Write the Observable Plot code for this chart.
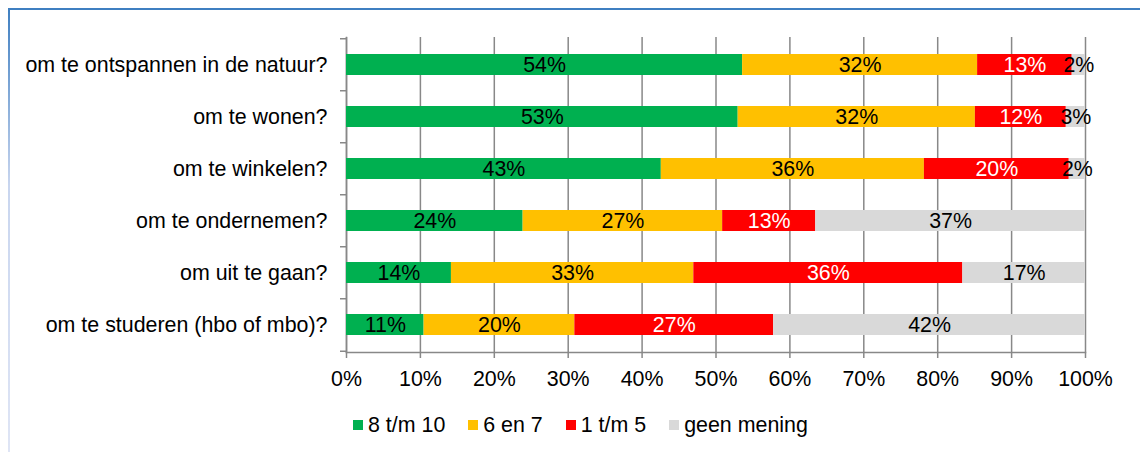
<!DOCTYPE html>
<html>
<head>
<meta charset="utf-8">
<script src="https://cdn.jsdelivr.net/npm/d3@7"></script>
<script src="https://cdn.jsdelivr.net/npm/@observablehq/plot@0.6"></script>
<style>
  html, body { margin: 0; padding: 0; background: #fff; }
  #wrap { position: relative; width: 1140px; height: 452px; overflow: hidden; font-family: "Liberation Sans", Arial, sans-serif; }
  #frameTop { position: absolute; left: 8px; top: 8px; right: 0; height: 2px; background: #3f7fc1; }
  #frameLeft { position: absolute; left: 8px; top: 8px; width: 2px; bottom: 0; background: linear-gradient(#3f7fc1, #c9d6ef 40%, #dfe5f5); }
  #chart { position: absolute; left: 0; top: 0; }
  #legend { position: absolute; left: 353px; top: 413px; height: 24px; display: flex; align-items: center; font-size: 21.4px; color: #000; }
  .item { display: flex; align-items: center; margin-right: 23px; }
  .sw { width: 10px; height: 10px; margin-right: 5px; }
</style>
</head>
<body>
<div id="wrap">
  <div id="frameTop"></div>
  <div id="frameLeft"></div>
  <div id="chart"></div>
  <div id="legend"></div>
</div>
<script>
const questions = [
  "om te ontspannen in de natuur?",
  "om te wonen?",
  "om te winkelen?",
  "om te ondernemen?",
  "om uit te gaan?",
  "om te studeren (hbo of mbo)?"
];
const categories = ["8 t/m 10", "6 en 7", "1 t/m 5", "geen mening"];
const colors = ["#00b050", "#ffc000", "#ff0000", "#d9d9d9"];
// values per category, one per question (percent)
const v8tm10 = [53.6, 53.0, 42.6, 23.9, 14.2, 10.5];
const v6en7 = [31.8, 32.1, 35.6, 27.0, 32.8, 20.4];
const v1tm5 = [12.8, 12.3, 19.6, 12.6, 36.4, 26.9];
const vGeen = [1.8, 2.6, 2.2, 36.5, 16.6, 42.2];
const xTicks = [0, 10, 20, 30, 40, 50, 60, 70, 80, 90, 100];

const series = [v8tm10, v6en7, v1tm5, vGeen];
const data = [];
questions.forEach((q, i) => {
  categories.forEach((c, j) => data.push({question: q, cat: c, value: series[j][i]}));
});
const pct = d => Math.round(d.value) + "%";
const step = 315 / 6;
const fs = 21.4;

const plot = Plot.plot({
  width: 1140,
  height: 400,
  marginLeft: 346,
  marginRight: 55,
  marginTop: 37,
  marginBottom: 48,
  style: {fontFamily: "'Liberation Sans', Arial, sans-serif", fontSize: fs + "px", background: "transparent", color: "#000"},
  x: {domain: [0, 100], axis: null},
  y: {domain: questions, paddingInner: 0.6, paddingOuter: 0.3, axis: null},
  color: {domain: categories, range: colors},
  marks: [
    Plot.ruleX(xTicks, {stroke: "#888", strokeWidth: 1.5}),
    Plot.axisX({ticks: xTicks, tickFormat: d => d + "%", tickSize: 6, tickPadding: 12, stroke: "#888", strokeWidth: 1.5, fontSize: fs, fill: "#000", label: null}),
    Plot.axisY({tickSize: 0, tickPadding: 19, fontSize: fs, fill: "#000", label: null}),
    Plot.axisY({tickSize: 6, text: null, dy: -step / 2, stroke: "#888", strokeWidth: 1.5, label: null}),
    Plot.axisY({ticks: [questions[questions.length - 1]], tickSize: 6, text: null, dy: step / 2, stroke: "#888", strokeWidth: 1.5, label: null}),
    Plot.frame({anchor: "left", stroke: "#888", strokeWidth: 1.5}),
    Plot.frame({anchor: "bottom", stroke: "#888", strokeWidth: 1.5}),
    Plot.barX(data, Plot.stackX({x: "value", y: "question", fill: "cat", order: categories})),
    Plot.text(data, Plot.stackX({x: "value", y: "question", z: "cat", order: categories,
      text: d => d.cat === "1 t/m 5" ? null : pct(d), fill: "#000", fontSize: fs})),
    Plot.text(data, Plot.stackX({x: "value", y: "question", z: "cat", order: categories,
      text: d => d.cat === "1 t/m 5" ? pct(d) : null, fill: "#fff", fontSize: fs}))
  ]
});
document.getElementById("chart").appendChild(plot);

const legend = document.getElementById("legend");
categories.forEach((c, i) => {
  const item = document.createElement("div");
  item.className = "item";
  const sw = document.createElement("div");
  sw.className = "sw";
  sw.style.background = colors[i];
  const t = document.createElement("span");
  t.textContent = c;
  item.appendChild(sw);
  item.appendChild(t);
  legend.appendChild(item);
});
</script>
</body>
</html>
